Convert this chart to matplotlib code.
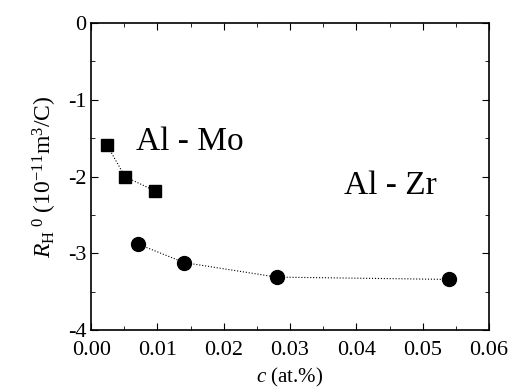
import numpy as np
from matplotlib import pyplot as plt
from matplotlib.ticker import MultipleLocator

# Al-Mo (squares) and Al-Zr (circles)
c_mo = [0.0024, 0.0051, 0.0097]
r_mo = [-1.59, -2.00, -2.19]
c_zr = [0.0071, 0.014, 0.028, 0.054]
r_zr = [-2.88, -3.12, -3.31, -3.34]

plt.rcParams['font.family'] = ['Liberation Serif', 'DejaVu Serif']
plt.rcParams['mathtext.fontset'] = 'custom'
plt.rcParams['mathtext.rm'] = 'Liberation Serif'
plt.rcParams['mathtext.it'] = 'Liberation Serif:italic'

fig = plt.figure(figsize=(5.12, 3.92), dpi=100)
ax = fig.add_axes([0.178, 0.158, 0.777, 0.783])

ax.plot(c_mo, r_mo, ls=':', color='black', lw=0.8)
ax.plot(c_mo, r_mo, 's', color='black', ms=9, ls='none')
ax.plot(c_zr, r_zr, ls=':', color='black', lw=0.8)
ax.plot(c_zr, r_zr, 'o', color='black', ms=10, ls='none')

ax.text(0.0149, -1.55, 'Al - Mo', fontsize=24, ha='center', va='center')
ax.text(0.0451, -2.12, 'Al - Zr', fontsize=24, ha='center', va='center')

ax.set_xlim(0, 0.06)
ax.set_ylim(-4, 0)
ax.xaxis.set_minor_locator(MultipleLocator(0.005))
ax.yaxis.set_minor_locator(MultipleLocator(0.5))
ax.set_xticks([0, 0.01, 0.02, 0.03, 0.04, 0.05, 0.06])
ax.set_xticklabels(['0.00', '0.01', '0.02', '0.03', '0.04', '0.05', '0.06'])
ax.set_yticks([0, -1, -2, -3, -4])
ax.set_yticklabels(['0', '-1', '-2', '-3', '-4'])
ax.tick_params(which='both', direction='in', top=True, right=True, labelsize=16)
ax.tick_params(axis='x', pad=8)
ax.tick_params(which='major', length=5)
ax.tick_params(which='minor', length=3)
for s in ax.spines.values():
    s.set_linewidth(1.2)

ax.set_xlabel(r'$c$ (at.%)', fontsize=15, labelpad=4)
ax.set_ylabel(r'$R_{\mathrm{H}}{}^{\ 0}$ (10$^{-11}$m$^3$/C)', fontsize=17, labelpad=6)

plt.savefig('out.png', dpi=100)
